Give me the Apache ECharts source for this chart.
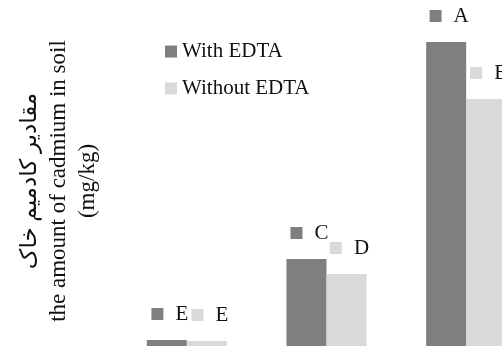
<!DOCTYPE html>
<html>
<head>
<meta charset="utf-8">
<script src="https://cdn.jsdelivr.net/npm/echarts@6/dist/echarts.min.js"></script>
<style>
  html, body { margin: 0; padding: 0; background: #fff; }
  #chart { width: 502px; height: 350px; }
</style>
</head>
<body>
<div id="chart"></div>
<script>
// data (mg/kg, estimated)
const categories = ["T1", "T2", "T3"];
const withEdta = [0.6, 8.7, 30.4];
const withoutEdta = [0.5, 7.2, 24.7];
const withLetters = ["E", "C", "A"];
const withoutLetters = ["E", "D", "B"];

const FONT = "'Liberation Serif', 'DejaVu Serif', 'DejaVu Sans', serif";
const DARK = "#7f7f7f";
const LIGHT = "#d9d9d9";

function letterLabel(letters, color) {
  return {
    show: true,
    position: "top",
    distance: 16,
    offset: [3, 0],
    formatter: p => "{s|}{t|" + letters[p.dataIndex] + "}",
    rich: {
      s: { backgroundColor: color, width: 12, height: 12 },
      t: { fontFamily: FONT, fontSize: 21, color: "#111", lineHeight: 20, padding: [0, 0, 0, 12] }
    }
  };
}

const chart = echarts.init(document.getElementById("chart"));
chart.setOption({
  animation: false,
  textStyle: { fontFamily: FONT },
  grid: { left: 117, top: 0, bottom: 4, width: 419, outerBoundsMode: "none" },
  legend: {
    orient: "vertical",
    left: 160,
    top: 36,
    itemWidth: 12,
    itemHeight: 12,
    itemGap: 16,
    icon: "rect",
    textStyle: { fontFamily: FONT, fontSize: 21, color: "#111" },
    data: ["With EDTA", "Without EDTA"]
  },
  xAxis: {
    type: "category",
    data: categories,
    axisLine: { show: false },
    axisTick: { show: false },
    axisLabel: { show: false }
  },
  yAxis: {
    type: "value",
    min: 0,
    max: 34.6,
    axisLine: { show: false },
    axisTick: { show: false },
    axisLabel: { show: false },
    splitLine: { show: false }
  },
  graphic: [{
    type: "text",
    x: 59,
    y: 181,
    rotation: Math.PI / 2,
    style: {
      text: "مقادیر کادمیم خاک\nthe amount of cadmium in soil\n(mg/kg)",
      font: "23px " + FONT,
      lineHeight: 29,
      fill: "#111",
      align: "center",
      verticalAlign: "middle"
    }
  }],
  series: [
    {
      name: "With EDTA",
      type: "bar",
      data: withEdta,
      barWidth: 40,
      barGap: "0%",
      itemStyle: { color: DARK },
      label: letterLabel(withLetters, DARK)
    },
    {
      name: "Without EDTA",
      type: "bar",
      data: withoutEdta,
      barWidth: 40,
      barGap: "0%",
      itemStyle: { color: LIGHT },
      label: letterLabel(withoutLetters, LIGHT)
    }
  ]
});
</script>
</body>
</html>
